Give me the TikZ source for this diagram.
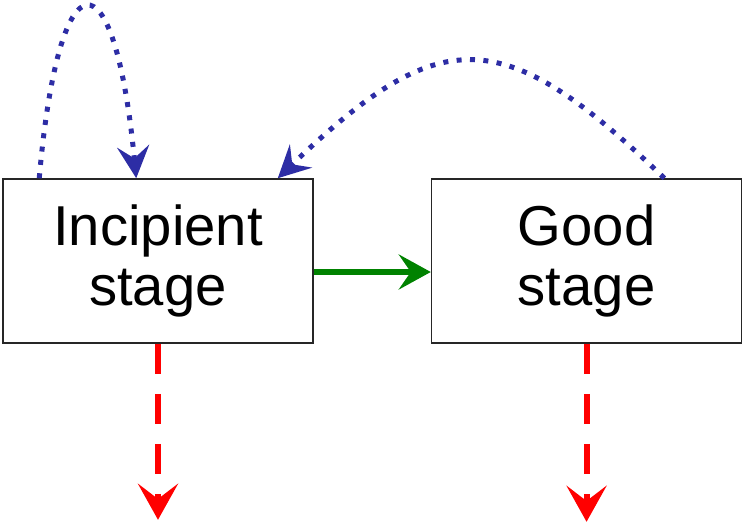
\documentclass[tikz,border=0pt]{standalone}
\usepackage{fontspec}
\setmainfont{Liberation Sans}
\usetikzlibrary{positioning,arrows.meta}

\definecolor{loopblue}{RGB}{45,45,165}
\definecolor{gogreen}{RGB}{0,130,0}

\tikzset{
  stagebox/.style={draw=black!85, line width=1.1pt, minimum width=7.75cm, minimum height=4.1cm,
    align=center, font=\fontsize{40}{42.7}\selectfont},
  feedback/.style={loopblue, line width=0.125cm, dash pattern=on 0.125cm off 0.21cm,
    -{Stealth[length=0.8cm, width=0.8cm, inset=0.3cm]}},
  advance/.style={gogreen, line width=0.15cm,
    -{Stealth[length=0.8cm, width=0.875cm, inset=0.3cm]}},
  loss/.style={red, line width=0.15cm, dash pattern=on 0.75cm off 0.5cm,
    -{Stealth[length=0.9cm, width=1cm, inset=0.38cm]}}
}

\begin{document}
\begin{tikzpicture}
  \useasboundingbox (0, 0) rectangle (18.6, 13.125);

  \node[stagebox] (inc) at (3.95, 6.6) {Incipient\\stage};
  \node[stagebox, right=2.925cm of inc] (good) {Good\\stage};

  \coordinate[below=4.4cm of inc.south] (incend);
  \coordinate[below=4.45cm of good.south] (goodend);

  \draw[feedback] ([xshift=0.925cm]inc.north west) .. controls +(0.5, 5.7) and +(-0.55, 5.7) .. ([xshift=3.35cm]inc.north west);
  \draw[feedback] ([xshift=-1.95cm]good.north east) .. controls +(-4.05, 3.9) and +(4.075, 3.9) .. ([xshift=-0.9cm]inc.north east);

  \draw[advance] ([yshift=-0.275cm]inc.east) -- ([yshift=-0.275cm]good.west);

  \draw[loss] (inc.south) -- (incend);
  \draw[loss] (good.south) -- (goodend);
\end{tikzpicture}
\end{document}
